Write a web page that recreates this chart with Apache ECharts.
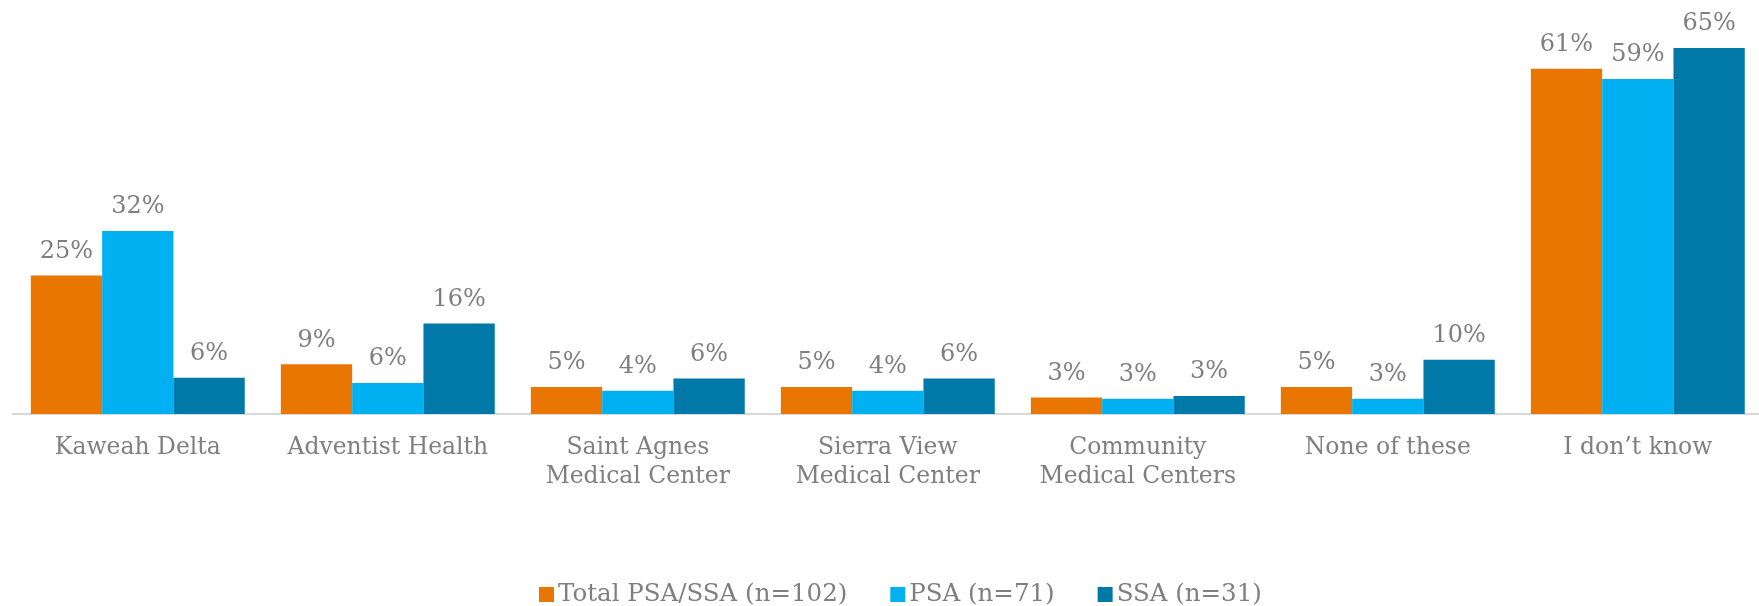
<!DOCTYPE html>
<html>
<head>
<meta charset="utf-8">
<script src="https://cdn.jsdelivr.net/npm/echarts@6/dist/echarts.min.js"></script>
<style>
  html, body { margin: 0; padding: 0; background: #fff; }
  #chart { width: 1759px; height: 606px; }
</style>
</head>
<body>
<div id="chart"></div>
<script>
// categories
const categories = [
  "Kaweah Delta",
  "Adventist Health",
  "Saint Agnes\nMedical Center",
  "Sierra View\nMedical Center",
  "Community\nMedical Centers",
  "None of these",
  "I don\u2019t know"
]

// series values (%)
const totalValues = [24.5, 8.8, 4.8, 4.8, 2.9, 4.8, 61.1]
const psaValues = [32.4, 5.5, 4.1, 4.1, 2.7, 2.7, 59.3]
const ssaValues = [6.4, 16.0, 6.3, 6.3, 3.2, 9.6, 64.8]

const seriesNames = ["Total PSA/SSA (n=102)", "PSA (n=71)", "SSA (n=31)"]
const colors = ["#E97600", "#00B0F0", "#0079A8"]

const textColor = "#7F7F7F"
const fontFamily = "DejaVu Serif"

const chart = echarts.init(document.getElementById("chart"))

const makeSeries = (name, data, color) => ({
  name: name,
  type: "bar",
  data: data,
  barWidth: 71.3,
  barGap: "0%",
  itemStyle: { color: color },
  label: {
    show: true,
    position: "top",
    distance: 12,
    color: textColor,
    fontFamily: fontFamily,
    fontSize: 24,
    formatter: p => Math.round(p.value) + "%"
  }
})

chart.setOption({
  animation: false,
  legend: {
    data: seriesNames,
    left: 534,
    top: 577,
    itemWidth: 15,
    itemHeight: 15,
    itemGap: 43,
    icon: "rect",
    textStyle: {
      color: textColor,
      fontFamily: fontFamily,
      fontSize: 24.5,
      padding: [0, 0, 0, -1]
    }
  },
  grid: {
    left: 12.8,
    top: 18.5,
    width: 1750,
    height: 395.5,
    containLabel: false,
    outerBoundsMode: "none"
  },
  xAxis: {
    type: "category",
    data: categories,
    axisLine: { lineStyle: { color: "#D9D9D9", width: 2 } },
    axisTick: { show: false },
    axisLabel: {
      interval: 0,
      margin: 19,
      color: textColor,
      fontFamily: fontFamily,
      fontSize: 23.5,
      lineHeight: 29.5
    }
  },
  yAxis: {
    type: "value",
    min: 0,
    max: 70,
    show: false,
    splitLine: { show: false }
  },
  series: [
    makeSeries(seriesNames[0], totalValues, colors[0]),
    makeSeries(seriesNames[1], psaValues, colors[1]),
    makeSeries(seriesNames[2], ssaValues, colors[2])
  ]
})
</script>
</body>
</html>
